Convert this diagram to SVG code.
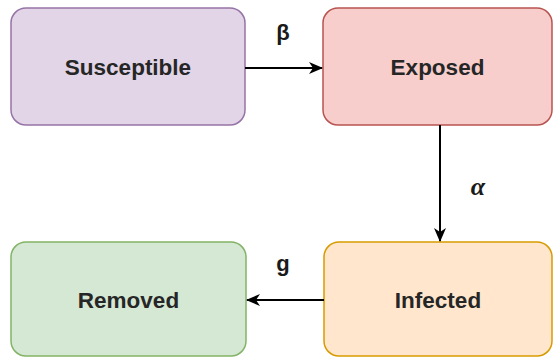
<svg xmlns="http://www.w3.org/2000/svg" width="553" height="358" viewBox="0 0 553 358">
  <style>
    .box { stroke-width: 1.5; }
    .lbl { font-family: "Liberation Sans", Arial, sans-serif; font-size: 22.5px; font-weight: bold; fill: #262626; text-anchor: middle; dominant-baseline: central; }
    .edge { stroke: #000000; stroke-width: 2; fill: none; }
    .elbl { font-family: "Liberation Sans", Arial, sans-serif; font-size: 22px; font-weight: bold; fill: #1a1a1a; text-anchor: middle; dominant-baseline: central; }
    .alpha { font-family: "Liberation Serif", "Times New Roman", serif; font-size: 26px; font-style: italic; font-weight: bold; fill: #1a1a1a; text-anchor: middle; dominant-baseline: central; }
  </style>
  <defs>
    <marker id="arr" viewBox="0 0 14 12" refX="13" refY="6" markerWidth="14" markerHeight="12" markerUnits="userSpaceOnUse" orient="auto">
      <path d="M0,0 L14,6 L0,12 L4,6 Z" fill="#000000"/>
    </marker>
  </defs>
  <rect width="553" height="358" fill="#ffffff"/>
  <g id="node-susceptible">
    <rect class="box" x="11" y="8" width="234" height="117" rx="15" fill="#e1d5e7" stroke="#9673a6"/>
    <text class="lbl" x="128" y="67">Susceptible</text>
  </g>
  <g id="node-exposed">
    <rect class="box" x="323" y="8" width="229" height="117" rx="15" fill="#f8cecc" stroke="#b85450"/>
    <text class="lbl" x="437.5" y="67">Exposed</text>
  </g>
  <g id="node-infected">
    <rect class="box" x="324" y="242" width="228" height="114" rx="15" fill="#ffe6cc" stroke="#d79b00"/>
    <text class="lbl" x="438" y="300">Infected</text>
  </g>
  <g id="node-removed">
    <rect class="box" x="11" y="242" width="235" height="114" rx="15" fill="#d5e8d4" stroke="#82b366"/>
    <text class="lbl" x="128.5" y="300">Removed</text>
  </g>
  <g id="connectors">
    <line class="edge" x1="245" y1="68" x2="322" y2="68" marker-end="url(#arr)"/>
    <line class="edge" x1="440" y1="125" x2="440" y2="241" marker-end="url(#arr)"/>
    <line class="edge" x1="324" y1="300" x2="247" y2="300" marker-end="url(#arr)"/>
    <text class="elbl" x="283" y="32">β</text>
    <text class="alpha" x="478" y="186">α</text>
    <text class="elbl" x="283" y="263">g</text>
  </g>
</svg>
